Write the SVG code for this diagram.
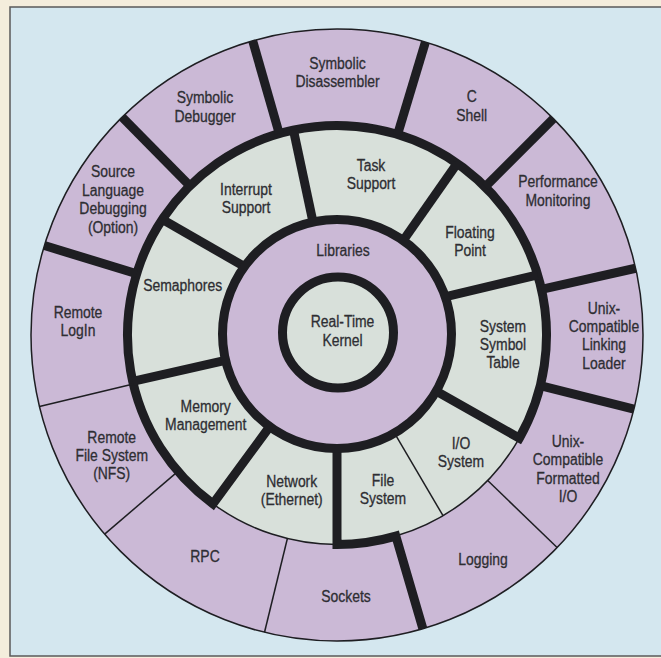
<svg xmlns="http://www.w3.org/2000/svg" width="661" height="658" viewBox="0 0 661 658">
  <style>
    .outer { fill: #cbb9d6; }
    .mid { fill: #d8e0da; }
    .lbl { font-family: "Liberation Sans", Arial, sans-serif; font-size: 16px; fill: #2e2e33; stroke: #2e2e33; stroke-width: 0.3; text-anchor: middle; }
    .thick { fill: none; stroke: #1e1e22; stroke-width: 9; stroke-linejoin: miter; }
    .thin { fill: none; stroke: #1e1e22; stroke-width: 1.5; }
  </style>

  <!-- page and panel -->
  <rect x="0" y="0" width="661" height="658" fill="#f4eddc"/>
  <rect x="10" y="7" width="660" height="649" fill="#d4e7ef" stroke="#5a5a5a" stroke-width="1.5"/>

  <!-- outer ring (r 209.5 .. 306, centre 337,335) -->
  <g id="symbolic-debugger">
    <path class="outer" d="M 122.14 117.12 A 306 306 0 0 1 252.65 40.85 L 279.25 133.62 A 209.5 209.5 0 0 0 189.90 185.83 Z"/>
    <text class="lbl" transform="translate(205 103.4) scale(0.87 1)"><tspan x="0" y="0">Symbolic</tspan><tspan x="0" dy="18.4">Debugger</tspan></text>
  </g>
  <g id="symbolic-disassembler">
    <path class="outer" d="M 252.65 40.85 A 306 306 0 0 1 425.44 42.06 L 397.55 134.44 A 209.5 209.5 0 0 0 279.25 133.62 Z"/>
    <text class="lbl" transform="translate(337.5 69) scale(0.87 1)"><tspan x="0" y="0">Symbolic</tspan><tspan x="0" dy="18.4">Disassembler</tspan></text>
  </g>
  <g id="c-shell">
    <path class="outer" d="M 425.44 42.06 A 306 306 0 0 1 553.38 118.62 L 485.14 186.86 A 209.5 209.5 0 0 0 397.55 134.44 Z"/>
    <text class="lbl" transform="translate(471.7 102.4) scale(0.87 1)"><tspan x="0" y="0">C</tspan><tspan x="0" dy="18.4">Shell</tspan></text>
  </g>
  <g id="performance-monitoring">
    <path class="outer" d="M 553.38 118.62 A 306 306 0 0 1 635.63 268.25 L 541.46 289.30 A 209.5 209.5 0 0 0 485.14 186.86 Z"/>
    <text class="lbl" transform="translate(558 187.4) scale(0.87 1)"><tspan x="0" y="0">Performance</tspan><tspan x="0" dy="18.4">Monitoring</tspan></text>
  </g>
  <g id="linking-loader">
    <path class="outer" d="M 635.63 268.25 A 306 306 0 0 1 633.91 409.03 L 540.28 385.68 A 209.5 209.5 0 0 0 541.46 289.30 Z"/>
    <text class="lbl" transform="translate(604 313.7) scale(0.87 1)"><tspan x="0" y="0">Unix-</tspan><tspan x="0" dy="18.4">Compatible</tspan><tspan x="0" dy="18.4">Linking</tspan><tspan x="0" dy="18.4">Loader</tspan></text>
  </g>
  <g id="formatted-io">
    <path class="outer" d="M 633.91 409.03 A 306 306 0 0 1 557.12 547.57 L 487.70 480.53 A 209.5 209.5 0 0 0 540.28 385.68 Z"/>
    <text class="lbl" transform="translate(568 447) scale(0.87 1)"><tspan x="0" y="0">Unix-</tspan><tspan x="0" dy="18.4">Compatible</tspan><tspan x="0" dy="18.4">Formatted</tspan><tspan x="0" dy="18.4">I/O</tspan></text>
  </g>
  <g id="logging">
    <path class="outer" d="M 557.12 547.57 A 306 306 0 0 1 422.89 628.70 L 395.80 536.08 A 209.5 209.5 0 0 0 487.70 480.53 Z"/>
    <text class="lbl" transform="translate(483 564.7) scale(0.87 1)">Logging</text>
  </g>
  <g id="sockets">
    <path class="outer" d="M 422.89 628.70 A 306 306 0 0 1 264.53 632.29 L 287.38 538.54 A 209.5 209.5 0 0 0 395.80 536.08 Z"/>
    <text class="lbl" transform="translate(346 602) scale(0.87 1)">Sockets</text>
  </g>
  <g id="rpc">
    <path class="outer" d="M 264.53 632.29 A 306 306 0 0 1 104.66 534.14 L 177.93 471.34 A 209.5 209.5 0 0 0 287.38 538.54 Z"/>
    <text class="lbl" transform="translate(205 562) scale(0.87 1)">RPC</text>
  </g>
  <g id="remote-file-system">
    <path class="outer" d="M 104.66 534.14 A 306 306 0 0 1 39.45 406.44 L 133.29 383.91 A 209.5 209.5 0 0 0 177.93 471.34 Z"/>
    <text class="lbl" transform="translate(111.7 442.7) scale(0.87 1)"><tspan x="0" y="0">Remote</tspan><tspan x="0" dy="18.4">File System</tspan><tspan x="0" dy="18.4">(NFS)</tspan></text>
  </g>
  <g id="remote-login">
    <path class="outer" d="M 39.45 406.44 A 306 306 0 0 1 44.37 245.53 L 136.66 273.75 A 209.5 209.5 0 0 0 133.29 383.91 Z"/>
    <text class="lbl" transform="translate(78 317.7) scale(0.87 1)"><tspan x="0" y="0">Remote</tspan><tspan x="0" dy="18.4">LogIn</tspan></text>
  </g>
  <g id="source-language-debugging">
    <path class="outer" d="M 44.37 245.53 A 306 306 0 0 1 122.14 117.12 L 189.90 185.83 A 209.5 209.5 0 0 0 136.66 273.75 Z"/>
    <text class="lbl" transform="translate(113 177.4) scale(0.87 1)"><tspan x="0" y="0">Source</tspan><tspan x="0" dy="18.4">Language</tspan><tspan x="0" dy="18.4">Debugging</tspan><tspan x="0" dy="18.4">(Option)</tspan></text>
  </g>

  <!-- middle ring (r 114.5 .. 209.5) -->
  <g id="interrupt-support">
    <path class="mid" d="M 162.30 219.37 A 209.5 209.5 0 0 1 293.44 130.08 L 313.19 223.00 A 114.5 114.5 0 0 0 244.96 266.89 Z"/>
    <text class="lbl" transform="translate(246 194.7) scale(0.87 1)"><tspan x="0" y="0">Interrupt</tspan><tspan x="0" dy="18.4">Support</tspan></text>
  </g>
  <g id="task-support">
    <path class="mid" d="M 293.44 130.08 A 209.5 209.5 0 0 1 457.16 163.39 L 402.67 241.21 A 114.5 114.5 0 0 0 313.19 223.00 Z"/>
    <text class="lbl" transform="translate(371 170.7) scale(0.87 1)"><tspan x="0" y="0">Task</tspan><tspan x="0" dy="18.4">Support</tspan></text>
  </g>
  <g id="floating-point">
    <path class="mid" d="M 457.16 163.39 A 209.5 209.5 0 0 1 537.66 274.80 L 444.93 296.78 A 114.5 114.5 0 0 0 402.67 241.21 Z"/>
    <text class="lbl" transform="translate(470 238) scale(0.87 1)"><tspan x="0" y="0">Floating</tspan><tspan x="0" dy="18.4">Point</tspan></text>
  </g>
  <g id="system-symbol-table">
    <path class="mid" d="M 537.66 274.80 A 209.5 209.5 0 0 1 519.34 438.16 L 436.66 391.38 A 114.5 114.5 0 0 0 444.93 296.78 Z"/>
    <text class="lbl" transform="translate(503 331.7) scale(0.87 1)"><tspan x="0" y="0">System</tspan><tspan x="0" dy="18.4">Symbol</tspan><tspan x="0" dy="18.4">Table</tspan></text>
  </g>
  <g id="io-system">
    <path class="mid" d="M 519.34 438.16 A 209.5 209.5 0 0 1 443.01 515.70 L 394.94 433.76 A 114.5 114.5 0 0 0 436.66 391.38 Z"/>
    <text class="lbl" transform="translate(461 448.7) scale(0.87 1)"><tspan x="0" y="0">I/O</tspan><tspan x="0" dy="18.4">System</tspan></text>
  </g>
  <g id="file-system">
    <path class="mid" d="M 443.01 515.70 A 209.5 209.5 0 0 1 337 544.5 L 337 449.5 A 114.5 114.5 0 0 0 394.94 433.76 Z"/>
    <text class="lbl" transform="translate(383 486) scale(0.87 1)"><tspan x="0" y="0">File</tspan><tspan x="0" dy="18.4">System</tspan></text>
  </g>
  <g id="network">
    <path class="mid" d="M 337 544.5 A 209.5 209.5 0 0 1 212.97 503.84 L 269.21 427.28 A 114.5 114.5 0 0 0 337 449.5 Z"/>
    <text class="lbl" transform="translate(291.7 487) scale(0.87 1)"><tspan x="0" y="0">Network</tspan><tspan x="0" dy="18.4">(Ethernet)</tspan></text>
  </g>
  <g id="memory-management">
    <path class="mid" d="M 212.97 503.84 A 209.5 209.5 0 0 1 132.71 381.41 L 225.35 360.37 A 114.5 114.5 0 0 0 269.21 427.28 Z"/>
    <text class="lbl" transform="translate(205.7 412) scale(0.87 1)"><tspan x="0" y="0">Memory</tspan><tspan x="0" dy="18.4">Management</tspan></text>
  </g>
  <g id="semaphores">
    <path class="mid" d="M 132.71 381.41 A 209.5 209.5 0 0 1 162.30 219.37 L 244.96 266.89 A 114.5 114.5 0 0 0 225.35 360.37 Z"/>
    <text class="lbl" transform="translate(182.7 291.4) scale(0.87 1)">Semaphores</text>
  </g>

  <!-- core -->
  <g id="libraries">
    <circle class="outer" cx="337" cy="334" r="114.5"/>
    <text class="lbl" transform="translate(343 256.4) scale(0.87 1)">Libraries</text>
  </g>
  <g id="real-time-kernel">
    <circle class="mid" cx="338" cy="332.5" r="55.5"/>
    <text class="lbl" transform="translate(342.5 327.4) scale(0.87 1)"><tspan x="0" y="0">Real-Time</tspan><tspan x="0" dy="18.4">Kernel</tspan></text>
  </g>

  <!-- ring boundaries and dividers -->
  <g id="dividers">
    <circle class="thin" cx="337" cy="335" r="306"/>
    <path class="thin" d="M 519.34 438.16 A 209.5 209.5 0 0 1 395.80 536.08"/>
    <path class="thin" d="M 337 544.5 A 209.5 209.5 0 0 1 212.97 503.84"/>
    <path class="thick" d="M 436.66 391.38 L 519.34 438.16 A 209.5 209.5 0 1 0 212.97 503.84 L 269.21 427.28"/>
    <path class="thick" d="M 337 449.5 L 337 544.5 A 209.5 209.5 0 0 0 395.80 536.08 L 422.89 628.70"/>
    <!-- middle ring dividers -->
    <path class="thick" d="M 313.19 223.00 L 293.44 130.08"/>
    <path class="thick" d="M 402.67 241.21 L 457.16 163.39"/>
    <path class="thick" d="M 444.93 296.78 L 537.66 274.80"/>
    <path class="thick" d="M 225.35 360.37 L 132.71 381.41"/>
    <path class="thick" d="M 244.96 266.89 L 162.30 219.37"/>
    <path class="thin" d="M 394.94 433.76 L 443.01 515.70"/>
    <!-- outer ring dividers -->
    <path class="thick" d="M 279.25 133.62 L 252.65 40.85"/>
    <path class="thick" d="M 397.55 134.44 L 425.44 42.06"/>
    <path class="thick" d="M 485.14 186.86 L 553.38 118.62"/>
    <path class="thick" d="M 541.46 289.30 L 635.63 268.25"/>
    <path class="thick" d="M 540.28 385.68 L 633.91 409.03"/>
    <path class="thick" d="M 136.66 273.75 L 44.37 245.53"/>
    <path class="thick" d="M 189.90 185.83 L 122.14 117.12"/>
    <path class="thin" d="M 487.70 480.53 L 557.12 547.57"/>
    <path class="thin" d="M 287.38 538.54 L 264.53 632.29"/>
    <path class="thin" d="M 177.93 471.34 L 104.66 534.14"/>
    <path class="thin" d="M 133.29 383.91 L 39.45 406.44"/>
    <!-- core rings -->
    <circle class="thick" cx="337" cy="334" r="114.5"/>
    <circle class="thick" cx="338" cy="332.5" r="55.5"/>
  </g>
</svg>
